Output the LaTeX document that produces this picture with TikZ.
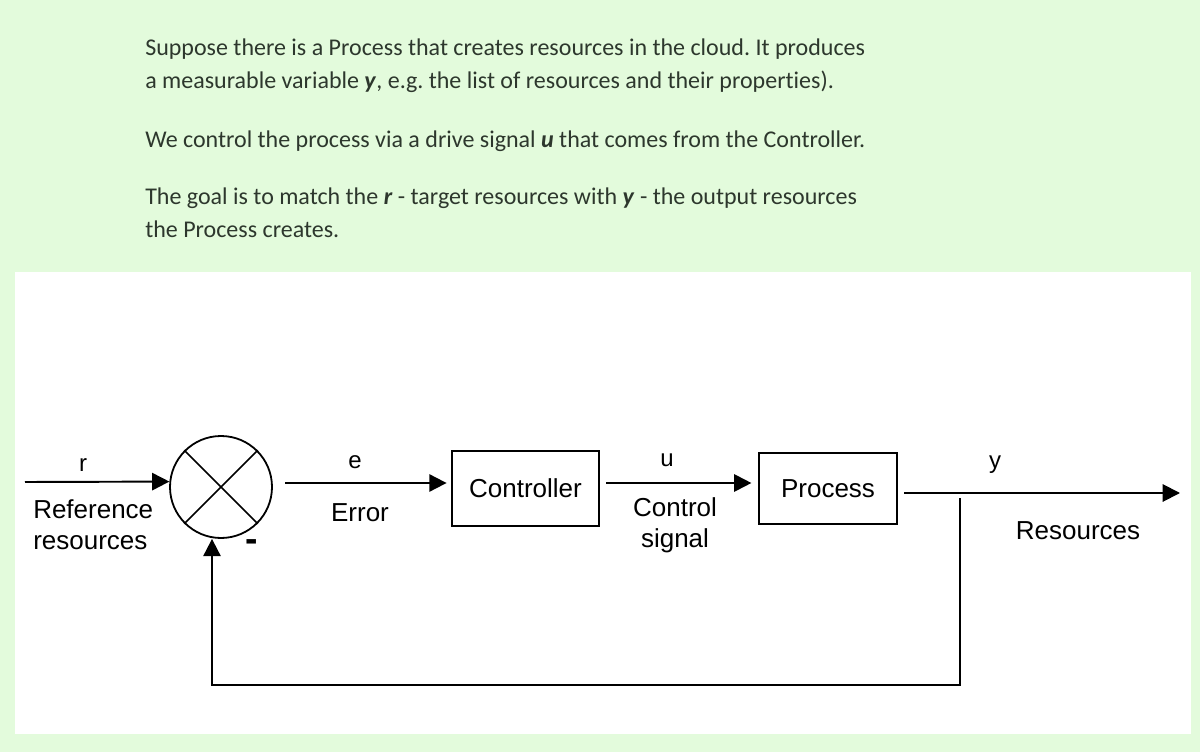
\documentclass[tikz,border=0pt]{standalone}
\usepackage{fontspec}
\setmainfont{Liberation Sans}
\newfontfamily\parafont[Ligatures=NoCommon]{Carlito}
\usetikzlibrary{arrows.meta}
\definecolor{bggreen}{RGB}{227,251,220}
\definecolor{txtcol}{RGB}{45,55,45}
\frenchspacing
\begin{document}
\begin{tikzpicture}[x=0.75pt,y=-0.75pt,
  wire/.style={line width=1.45pt},
  arr/.style={wire,-{Triangle[length=13pt,width=13pt]}},
  blk/.style={draw,line width=1.35pt,inner sep=0pt},
  lbl/.style={font=\fontsize{19.5}{23}\selectfont},
  hand/.style={font=\fontsize{18}{20}\selectfont},
  para/.style={anchor=base west,text=txtcol,inner sep=0pt,font=\parafont\fontsize{18}{20}\selectfont}
]
\fill[bggreen] (0,0) rectangle (1200,752);
\fill[white] (15,272) rectangle (1191,734);

% paragraph text
\node[para] (p1) at (145,56) {Suppose there is a Process that creates resources in the cloud. It produces};
\node[para] (p2) at (145,89) {a measurable variable \textbf{\textit{y}}, e.g. the list of resources and their properties).};
\node[para] (p3) at (145,148) {We control the process via a drive signal \textbf{\textit{u}} that comes from the Controller.};
\node[para] (p4) at (145,205) {The goal is to match the \textbf{\textit{r}} - target resources with \textbf{\textit{y}} - the output resources};
\node[para] (p5) at (145,238) {the Process creates.};

% blocks
\node[blk,circle,minimum size=76.5pt] (sum) at (221,487) {};
\draw[line width=1.2pt] (sum.45) -- (sum.225) (sum.135) -- (sum.315);
\node[blk,minimum width=110pt,minimum height=56pt,lbl] (ctrl) at (525.5,488.5) {Controller};
\node[blk,minimum width=103.5pt,minimum height=53pt,lbl] (proc) at (828,488.5) {Process};

% connectors
\coordinate (rin) at (25,482);
\draw[arr] (rin) -- (sum.174);
\coordinate (eout) at (285,483);
\draw[arr,shorten >=3.5pt] (eout) -- (eout -| ctrl.west);
\coordinate (uout) at (606,483);
\draw[arr,shorten >=5pt] (uout) -- (uout -| proc.west);
\coordinate (yout) at (904,493);
\coordinate (yend) at (1180,493);
\draw[arr] (yout) -- (yend);
\coordinate (fb) at (960,498);
\coordinate (fbc) at (960,685);
\coordinate (fbl) at (212,685);
\draw[arr] (fb) -- (fbc) -- (fbl) -- (fbl |- sum.south);

% labels
\node[hand] (rl) at (83,465) {r};
\node[hand] (el) at (355,462) {e};
\node[hand] (ul) at (667,460) {u};
\node[hand] (yl) at (995,465) {y};
\node[font=\bfseries\fontsize{28}{28}\selectfont,inner sep=0pt] (minus) at (252,546) {-};
\node[lbl,anchor=west,align=left,inner sep=0pt] (refl) at (33,524.5) {Reference\\resources};
\node[lbl] (errl) at (360,513) {Error};
\node[lbl,align=center] (ctl) at (675,525) {Control\\signal};
\node[lbl] (resl) at (1078,531) {Resources};
\end{tikzpicture}
\end{document}
